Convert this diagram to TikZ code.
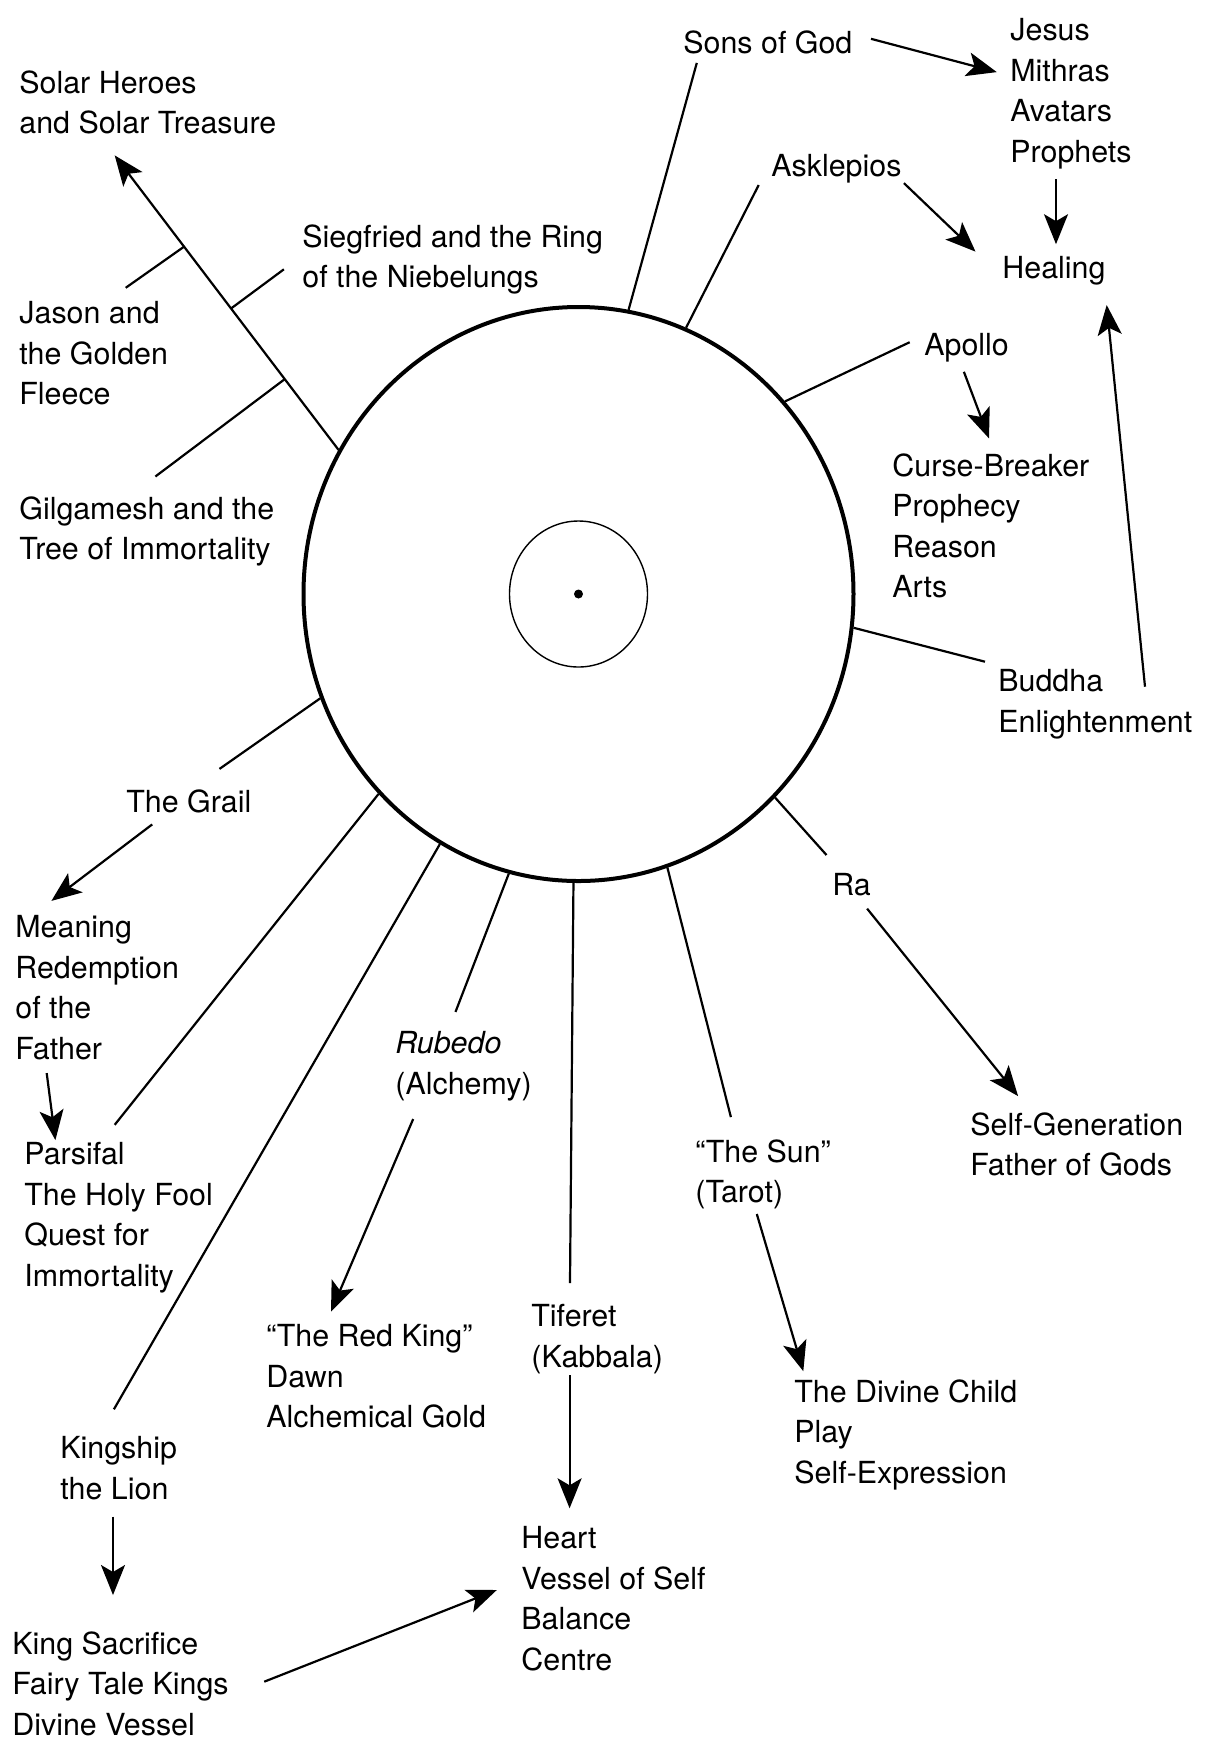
\documentclass[tikz,border=0pt]{standalone}
\usepackage{fontspec}
\setmainfont{TeX Gyre Heros}
\usetikzlibrary{shapes.geometric,arrows.meta,calc}
\tikzset{lbl/.style={anchor=north west,align=left,inner sep=0pt,font=\fontsize{15.2}{20.3}\selectfont}}
\tikzset{ring/.style={ellipse,draw,inner sep=0pt}}
\tikzset{spoke/.style={line width=1.1pt}}
\tikzset{arr/.style={line width=1.1pt,-{Stealth[length=15pt,width=12pt,inset=3.5pt]}}}

\begin{document}
\begin{tikzpicture}[x=0.5pt,y=-0.5pt]
        \useasboundingbox (0,0) rectangle (1207,1753);

        % the sun
        \node[ring,line width=2pt,minimum width=275pt,minimum height=287pt] (disc)at (578.5,594) {};
        \node[ring,line width=0.7pt,minimum width=69pt,minimum height=73pt] (core)at (578.5,594) {};
        \node[circle,fill,inner sep=0pt,minimum size=4.5pt] (dot)at (578.5,594) {};

        % labels
        \node[lbl] (solar)at (19,70) {Solar Heroes\\and Solar Treasure};
        \node[lbl] (sieg)at (302,224) {Siegfried and the Ring\\of the Niebelungs};
        \node[lbl] (jason)at (19,301) {Jason and\\the Golden\\Fleece};
        \node[lbl] (gilg)at (19,496) {Gilgamesh and the\\Tree of Immortality};
        \node[lbl] (sons)at (683,30) {Sons of God};
        \node[lbl] (jesus)at (1010,18) {Jesus\\Mithras\\Avatars\\Prophets};
        \node[lbl] (askl)at (771,154) {Asklepios};
        \node[lbl] (heal)at (1002,256) {Healing};
        \node[lbl] (apollo)at (924,333) {Apollo};
        \node[lbl] (curse)at (892,453) {Curse-Breaker\\Prophecy\\Reason\\Arts};
        \node[lbl] (buddha)at (998,669) {Buddha\\Enlightenment};
        \node[lbl] (ra)at (832,873) {Ra};
        \node[lbl] (selfgen)at (970,1112) {Self-Generation\\Father of Gods};
        \node[lbl] (tarot)at (695,1139) {“The Sun”\\(Tarot)};
        \node[lbl] (child)at (794,1379) {The Divine Child\\Play\\Self-Expression};
        \node[lbl] (tiferet)at (531,1304) {Tiferet\\(Kabbala)};
        \node[lbl] (heart)at (521,1526) {Heart\\Vessel of Self\\Balance\\Centre};
        \node[lbl] (rubedo)at (395,1031) {\textit{Rubedo}\\(Alchemy)};
        \node[lbl] (redking)at (266,1324) {“The Red King”\\Dawn\\Alchemical Gold};
        \node[lbl] (grail)at (126,789) {The Grail};
        \node[lbl] (meaning)at (15,915) {Meaning\\Redemption\\of the\\Father};
        \node[lbl] (parsifal)at (24,1142) {Parsifal\\The Holy Fool\\Quest for\\Immortality};
        \node[lbl] (kingship)at (60,1436) {Kingship\\the Lion};
        \node[lbl] (kingsac)at (12,1631) {King Sacrifice\\Fairy Tale Kings\\Divine Vessel};

        % spoke ends
        \coordinate (solarE) at (114.7,155.4);
        \coordinate (sonsE) at (696.8,62.9);
        \coordinate (asklE) at (758.7,185);
        \coordinate (apolloE) at (909.7,342.2);
        \coordinate (buddhaE) at (985,661.7);
        \coordinate (raE) at (826.5,855);
        \coordinate (tarotE) at (730.9,1117.1);
        \coordinate (tiferetE) at (570,1283);
        \coordinate (rubedoE) at (455.5,1011.9);
        \coordinate (kingshipE) at (113.9,1409.3);
        \coordinate (parsifalE) at (114.7,1124.8);
        \coordinate (grailE) at (219.5,768.9);

        \draw [arr] (disc.149.6) to (solarE);
        \draw [spoke] (disc.80.8) to (sonsE);
        \draw [spoke] (disc.68.7) to (asklE);
        \draw [spoke] (disc.43.3) to (apolloE);
        \draw [spoke] (disc.-7.2) to (buddhaE);
        \draw [spoke] (disc.-46.5) to (raE);
        \draw [spoke] (disc.-72.2) to (tarotE);
        \draw [spoke] (disc.-91.3) to (tiferetE);
        \draw [spoke] (disc.-104.3) to (rubedoE);
        \draw [spoke] (disc.-119.1) to (kingshipE);
        \draw [spoke] (disc.-135.3) to (parsifalE);
        \draw [spoke] (disc.-158.3) to (grailE);

        % side branches of the hero line
        \coordinate (jasonB) at ($(disc.149.6)!0.69!(solarE)$);
        \coordinate (siegB) at ($(disc.149.6)!0.48!(solarE)$);
        \coordinate (gilgB) at ($(disc.149.6)!0.24!(solarE)$);
        \coordinate (jasonE) at (125.7,287.8);
        \coordinate (siegE) at (283.9,269.3);
        \coordinate (gilgE) at (155.4,476.5);
        \draw [spoke] (jasonB) to (jasonE);
        \draw [spoke] (siegB) to (siegE);
        \draw [spoke] (gilgB) to (gilgE);

        % arrows between labels
        \coordinate (s1) at (871,38.8);      \coordinate (e1) at (996.8,72.1);
        \coordinate (s2) at (1056,179.4);    \coordinate (e2) at (1056,244.2);
        \coordinate (s3) at (903.9,183.1);   \coordinate (e3) at (975.5,251.6);
        \coordinate (s4) at (963.9,371.8);   \coordinate (e4) at (989,438.4);
        \coordinate (s5) at (1145,686.7);    \coordinate (e5) at (1106.7,305);
        \coordinate (s6) at (867.1,908.6);   \coordinate (e6) at (1018.1,1096.1);
        \coordinate (s7) at (756.8,1214);    \coordinate (e7) at (803.3,1371.2);
        \coordinate (s8) at (569.6,1375);    \coordinate (e8) at (569.6,1508.3);
        \coordinate (s9) at (413.2,1119);    \coordinate (e9) at (331,1311.7);
        \coordinate (s10) at (152.2,824.4);  \coordinate (e10) at (51.4,900.9);
        \coordinate (s11) at (46.7,1073.1);  \coordinate (e11) at (55.4,1140.1);
        \coordinate (s12) at (113,1516.7);   \coordinate (e12) at (113,1595);
        \coordinate (s13) at (264.2,1681.7); \coordinate (e13) at (496.8,1590);

        \draw [arr] (s1) to (e1);
        \draw [arr] (s2) to (e2);
        \draw [arr] (s3) to (e3);
        \draw [arr] (s4) to (e4);
        \draw [arr] (s5) to (e5);
        \draw [arr] (s6) to (e6);
        \draw [arr] (s7) to (e7);
        \draw [arr] (s8) to (e8);
        \draw [arr] (s9) to (e9);
        \draw [arr] (s10) to (e10);
        \draw [arr] (s11) to (e11);
        \draw [arr] (s12) to (e12);
        \draw [arr] (s13) to (e13);
    \end{tikzpicture}
\end{document}
